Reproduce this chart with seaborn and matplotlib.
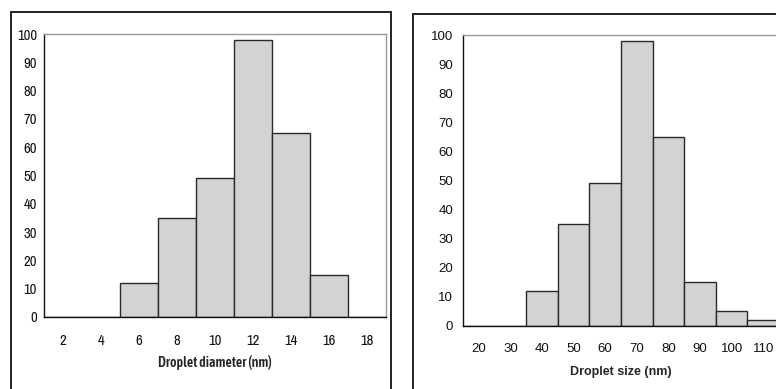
import numpy as np
import pandas as pd
import matplotlib.pyplot as plt
import seaborn as sns
from matplotlib.patches import Rectangle

# data
diam_bins   = [2, 4, 6, 8, 10, 12, 14, 16, 18]
diam_counts = [0, 0, 12, 35, 49, 98, 65, 15, 0]
size_bins   = [20, 30, 40, 50, 60, 70, 80, 90, 100, 110]
size_counts = [0, 0, 12, 35, 49, 98, 65, 15, 5, 2]
y_ticks     = list(range(0, 101, 10))

BAR_FILL = "#d3d3d5"
BAR_EDGE = "#2a2a2a"

sns.set_style("white")
narrow      = ["Liberation Sans Narrow", "Archivo Narrow", "Liberation Sans", "DejaVu Sans"]
narrow_bold = ["Asap Condensed", "Liberation Sans Narrow", "Liberation Sans", "DejaVu Sans"]
arial       = ["Liberation Sans", "DejaVu Sans"]

fig = plt.figure(figsize=(7.76, 3.89), dpi=100)

# outer panel frames
fig.patches.append(Rectangle((11/776, -0.05), 380/776, 1.05 - 12/389,
                             transform=fig.transFigure, fill=False,
                             edgecolor="#222222", linewidth=1.4))
fig.patches.append(Rectangle((413/776, -0.05), 0.5, 1.05 - 14/389,
                             transform=fig.transFigure, fill=False,
                             edgecolor="#222222", linewidth=1.4))


def draw_hist(ax, bins, counts, xlabel, family, label_family, tick_size,
              label_size, label_weight, ypad, xpad, labelpad):
    df = pd.DataFrame({"bin": [str(b) for b in bins], "count": counts})
    sns.barplot(data=df, x="bin", y="count", ax=ax, color=BAR_FILL,
                edgecolor=BAR_EDGE, linewidth=1.0, width=1.0, saturation=1)
    n = len(bins)
    ax.set_xlim(-0.5, n - 0.5)
    ax.set_ylim(0, 100)
    ax.set_yticks(y_ticks)
    ax.set_yticklabels([str(t) for t in y_ticks], family=family,
                       fontsize=tick_size, color="#111111")
    ax.set_xticks(range(n))
    ax.set_xticklabels([str(b) for b in bins], family=family,
                       fontsize=tick_size, color="#111111")
    ax.set_xticks(np.arange(n + 1) - 0.5, minor=True)
    ax.tick_params(axis="x", which="major", length=0, pad=xpad)
    ax.tick_params(axis="x", which="minor", length=5, width=1, color="#222222",
                   direction="out")
    ax.tick_params(axis="y", length=4, width=1, color="#222222",
                   direction="out", pad=ypad)
    ax.set_ylabel("")
    ax.set_xlabel(xlabel, family=label_family, fontsize=label_size,
                  fontweight=label_weight, labelpad=labelpad)
    for side in ["left", "bottom"]:
        ax.spines[side].set_color("#111111")
        ax.spines[side].set_linewidth(1.0)
    for side in ["top", "right"]:
        ax.spines[side].set_visible(True)
        ax.spines[side].set_color("#999999")
        ax.spines[side].set_linewidth(1.0)


ax1 = fig.add_axes([44/776, 1 - 317/389, 342/776, 283/389])
draw_hist(ax1, diam_bins, diam_counts, "Droplet diameter (nm)", narrow,
          narrow_bold, 10.5, 10, 600, ypad=1, xpad=12, labelpad=5)

ax2 = fig.add_axes([463/776, 1 - 326/389, 316/776, 291/389])
draw_hist(ax2, size_bins, size_counts, "Droplet size (nm)", arial, arial,
          9.5, 9, "bold", ypad=3, xpad=12, labelpad=8)

fig.savefig("out.png", dpi=100)
